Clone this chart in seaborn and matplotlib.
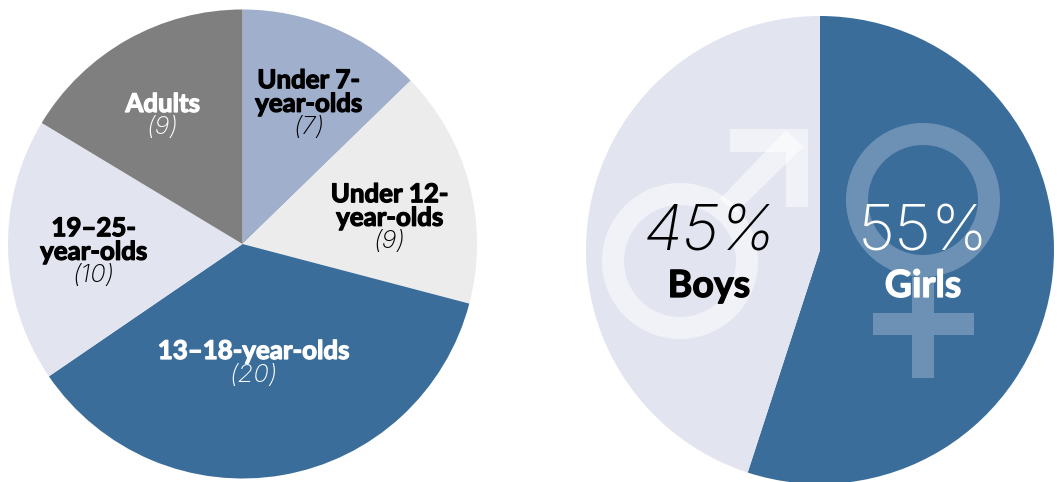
import matplotlib
matplotlib.use("Agg")
import matplotlib.pyplot as plt
import matplotlib.patheffects as pe
from matplotlib.patches import Polygon, Wedge
import seaborn as sns

sns.set_theme(style="white")
plt.rcParams["font.family"] = ["Lato", "DejaVu Sans"]

# Respondents by age group, clockwise from twelve o'clock
age_groups = ["Under 7-\nyear-olds", "Under 12-\nyear-olds", "13–18-year-olds", "19–25-\nyear-olds", "Adults"]
age_counts = [7, 9, 20, 10, 9]
age_colors = sns.color_palette(["#a0afcb", "#ececec", "#3b6d9b", "#e2e4f0", "#7f7f7f"])
age_text_colors = ["black", "black", "white", "black", "white"]
age_name_xy = [(309, 92), (390, 206), (254, 351), (94, 240), (163, 104)]

# Respondents by gender, clockwise from twelve o'clock
gender_names = ["Girls", "Boys"]
gender_shares = [55, 45]
gender_colors = sns.color_palette(["#3b6d9b", "#e2e4f0"])

W, H = 1057, 482
fig = plt.figure(figsize=(W / 100, H / 100), dpi=100)


def pie_axes(cx, cy, r):
    ax = fig.add_axes([(cx - r) / W, 1 - (cy + r) / H, 2 * r / W, 2 * r / H])
    ax.set_xlim(-1, 1)
    ax.set_ylim(-1, 1)
    ax.axis("off")
    return ax


ax_age = pie_axes(242.5, 244, 234.5)
ax_age.pie(age_counts, colors=age_colors, startangle=90, counterclock=False, radius=1,
           wedgeprops=dict(linewidth=0))
ax_age.set_xlim(-1, 1)
ax_age.set_ylim(-1, 1)

ax_gender = pie_axes(820, 250, 234)
ax_gender.pie(gender_shares, colors=gender_colors, startangle=90, counterclock=False, radius=1,
              wedgeprops=dict(linewidth=0))
ax_gender.set_xlim(-1, 1)
ax_gender.set_ylim(-1, 1)

# Overlay in pixel units for the gender symbols and all labels
ov = fig.add_axes([0, 0, 1, 1])
ov.set_xlim(0, W)
ov.set_ylim(H, 0)
ov.axis("off")
ov.patch.set_alpha(0)

female = dict(facecolor="white", alpha=0.25, linewidth=0)
ov.add_patch(Wedge((923, 200), 77, 0, 360, width=22, **female))
ov.add_patch(Polygon([(912, 277), (934, 277), (934, 313), (974, 313), (974, 335), (934, 335),
                      (934, 378), (912, 378), (912, 335), (873, 335), (873, 313), (912, 313)],
                     closed=True, **female))

male = dict(facecolor="white", alpha=0.55, linewidth=0)
ov.add_patch(Wedge((680, 261), 78, 0, 360, width=22, **male))
ov.add_patch(Polygon([(720, 199), (736, 213), (803, 147), (786, 130)], closed=True, **male))
ov.add_patch(Polygon([(730, 129), (808, 129), (808, 207), (786, 207), (786, 152), (730, 152)],
                     closed=True, **male))


def heavy(x, y, s, size, color):
    # A thin outline brings Lato Bold up to a black weight
    t = ov.text(x, y, s, ha="center", va="center", fontsize=size, fontweight="bold",
                color=color, linespacing=0.98)
    t.set_path_effects([pe.withStroke(linewidth=0.9, foreground=color)])


def thin(x, y, s, size, color, italic=True):
    ov.text(x, y, s, ha="center", va="center", fontsize=size, family="Inter", fontweight=200,
            fontstyle="italic" if italic else "normal", color=color)


for name, count, (x, y), color in zip(age_groups, age_counts, age_name_xy, age_text_colors):
    heavy(x, y, name, 18.6, color)
    thin(x, y + (36 if "\n" in name else 24), f"({count})", 18.5, color)

thin(710, 234, f"{gender_shares[1]}%", 46, "black")
heavy(709, 286, gender_names[1], 27, "black")
thin(923, 234, f"{gender_shares[0]}%", 46, "white", italic=False)
heavy(923, 286, gender_names[0], 27, "white")

fig.savefig("out.png", dpi=100)
